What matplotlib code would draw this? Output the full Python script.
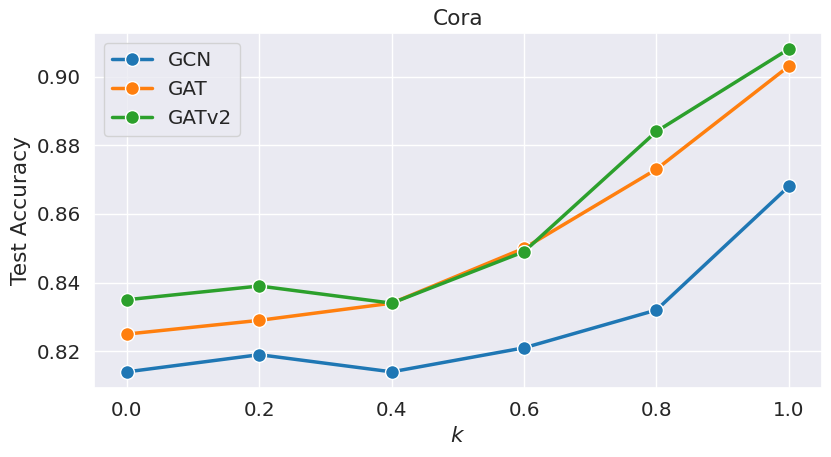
import numpy as np
import matplotlib
matplotlib.use("Agg")
import matplotlib.pyplot as plt
import seaborn as sns

k_values = [0.0, 0.2, 0.4, 0.6, 0.8, 1.0]
gcn_acc = [0.814, 0.819, 0.814, 0.821, 0.832, 0.868]
gat_acc = [0.825, 0.829, 0.834, 0.850, 0.873, 0.903]
gatv2_acc = [0.835, 0.839, 0.834, 0.849, 0.884, 0.908]

sns.set_theme(style="darkgrid", palette="tab10", font_scale=1.3)

fig, ax = plt.subplots(figsize=(8.31, 4.57), dpi=100)

# same order as legend
for name, acc in [("GCN", gcn_acc), ("GAT", gat_acc), ("GATv2", gatv2_acc)]:
    ax.plot(k_values, acc, marker="o", markersize=10, markeredgecolor="white",
            markeredgewidth=1, linewidth=2.5, label=name)

ax.set_title("Cora")
ax.set_xlabel("$k$")
ax.set_ylabel("Test Accuracy")
ax.set_xticks(k_values)
ax.set_yticks([0.82, 0.84, 0.86, 0.88, 0.90])
ax.set_yticklabels(["0.82", "0.84", "0.86", "0.88", "0.90"])
ax.legend(loc="upper left")

fig.subplots_adjust(left=0.113, right=0.989, top=0.928, bottom=0.151)
fig.savefig("out.png", dpi=100)
